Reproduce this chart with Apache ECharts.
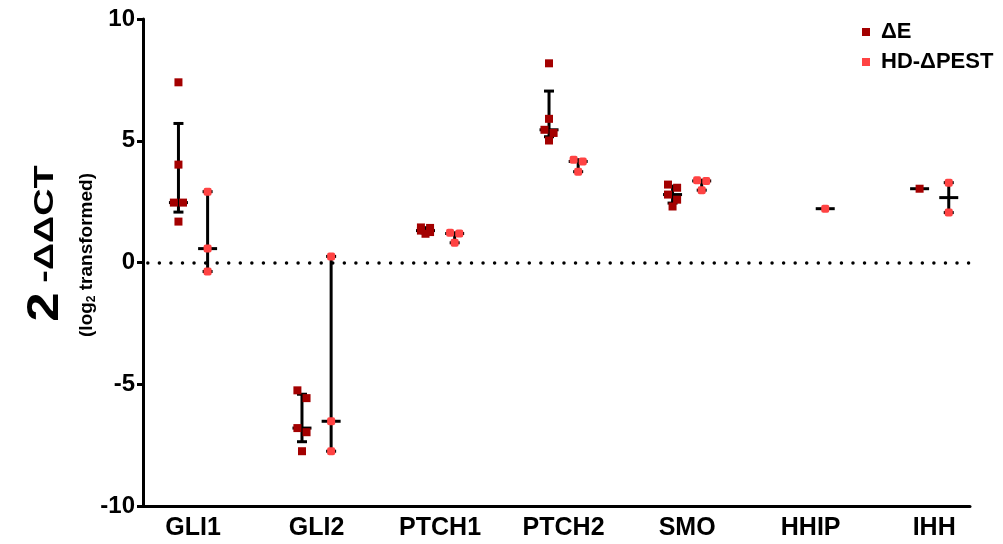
<!DOCTYPE html>
<html>
<head>
<meta charset="utf-8">
<title>Hedgehog pathway gene expression</title>
<script src="https://cdn.jsdelivr.net/npm/echarts@6/dist/echarts.min.js"></script>
<style>
  html, body { margin: 0; padding: 0; background: #fff; }
  #chart { width: 1003px; height: 544px; }
</style>
</head>
<body>
<div id="chart"></div>
<script>
// Genes on the x axis
const categories = ['GLI1', 'GLI2', 'PTCH1', 'PTCH2', 'SMO', 'HHIP', 'IHH'];

// Series names (legend)
const seriesNames = ['ΔE', 'HD-ΔPEST'];

// log2-transformed 2^-ΔΔCT values, one list per gene
const deltaE = [
  [7.40, 4.02, 2.46, 2.46, 1.68],
  [-5.25, -5.57, -6.80, -6.97, -7.75],
  [1.44, 1.42, 1.31, 1.25, 1.18],
  [8.18, 5.90, 5.45, 5.32, 5.01],
  [3.20, 3.07, 2.79, 2.58, 2.30],
  [],
  [3.03]
];
const hdDeltaPest = [
  [2.91, 0.57, -0.37],
  [0.25, -6.52, -7.75],
  [1.22, 1.19, 0.81],
  [4.22, 4.15, 3.73],
  [3.38, 3.35, 2.97],
  [2.21],
  [3.28, 2.05]
];

// y axis ticks
const yMin = -10, yMax = 10, yStep = 5;

const colors = ['#A30000', '#FF4343'];
const groupOffset = 0.118;   // horizontal shift of each series within a gene
const jitterStep = 0.037;    // sideways nudge for overlapping points
const clusterGap = 0.35;     // values closer than this overlap visually
const fontFamily = '"Liberation Sans", Arial, sans-serif';

// quartile with (n+1)p positions, linear interpolation
function quantile(s, p) {
  const n = s.length;
  const pos = (n + 1) * p;
  if (pos <= 1) return s[0];
  if (pos >= n) return s[n - 1];
  const lo = Math.floor(pos);
  return s[lo - 1] + (pos - lo) * (s[lo] - s[lo - 1]);
}

// spread overlapping points sideways, alternating left/right
function jitter(values) {
  const idx = values.map((v, i) => i).sort((a, b) => values[b] - values[a]);
  const out = new Array(values.length).fill(0);
  let k = 0;
  while (k < idx.length) {
    let e = k;
    while (e + 1 < idx.length && values[idx[e]] - values[idx[e + 1]] < clusterGap) e++;
    const size = e - k + 1;
    if (size > 1) {
      for (let j = 0; j < size; j++) {
        const last = (j === size - 1) && (size % 2 === 1);
        out[idx[k + j]] = last ? 0 : (j % 2 === 0 ? -jitterStep : jitterStep);
      }
    }
    k = e + 1;
  }
  return out;
}

function buildPoints(groups, dir) {
  const pts = [];
  groups.forEach((vals, i) => {
    const off = jitter(vals);
    vals.forEach((v, j) => pts.push([i + dir * groupOffset + off[j], v]));
  });
  return pts;
}

function buildStats(groups, dir) {
  const rows = [];
  groups.forEach((vals, i) => {
    if (!vals.length) return;
    const s = vals.slice().sort((a, b) => a - b);
    rows.push([i + dir * groupOffset, quantile(s, 0.5), quantile(s, 0.25), quantile(s, 0.75)]);
  });
  return rows;
}

// median bar + interquartile whiskers
function renderStats(params, api) {
  const x = api.value(0);
  const m = api.coord([x, api.value(1)]);
  const q1 = api.coord([x, api.value(2)]);
  const q3 = api.coord([x, api.value(3)]);
  const style = { stroke: '#000', lineWidth: 3, fill: null };
  const children = [
    { type: 'line', shape: { x1: m[0] - 9.5, y1: m[1], x2: m[0] + 9.5, y2: m[1] }, style }
  ];
  if (Math.abs(q1[1] - q3[1]) > 0.5) {
    children.push(
      { type: 'line', shape: { x1: m[0], y1: q3[1], x2: m[0], y2: q1[1] }, style },
      { type: 'line', shape: { x1: m[0] - 5, y1: q3[1], x2: m[0] + 5, y2: q3[1] }, style },
      { type: 'line', shape: { x1: m[0] - 5, y1: q1[1], x2: m[0] + 5, y2: q1[1] }, style }
    );
  }
  return { type: 'group', children };
}

const chart = echarts.init(document.getElementById('chart'), null, { renderer: 'canvas' });

chart.setOption({
  animation: false,
  backgroundColor: '#fff',
  grid: { left: 143, right: 33, top: 19, bottom: 38 },
  legend: {
    data: seriesNames,
    orient: 'vertical',
    left: 862,
    top: 21,
    padding: 0,
    icon: 'rect',
    itemWidth: 8,
    itemHeight: 8,
    itemGap: 8,
    textStyle: {
      fontFamily, fontSize: 22, fontWeight: 'bold', color: '#000',
      lineHeight: 22, padding: [0, 0, 0, 6]
    }
  },
  xAxis: {
    type: 'value',
    min: -0.405,
    max: 6.29,
    splitLine: { show: false },
    axisTick: { show: false },
    axisLine: { show: true, onZero: false, lineStyle: { color: '#000', width: 3 } },
    axisLabel: {
      customValues: categories.map((c, i) => i),
      formatter: v => categories[Math.round(v)],
      fontFamily, fontSize: 25, fontWeight: 'bold', color: '#000', margin: 10
    }
  },
  yAxis: {
    type: 'value',
    min: yMin,
    max: yMax,
    interval: yStep,
    splitLine: { show: false },
    axisLine: { show: true, onZero: false, lineStyle: { color: '#000', width: 3 } },
    axisTick: { show: true, length: 6, lineStyle: { color: '#000', width: 3 } },
    axisLabel: { fontFamily, fontSize: 24, fontWeight: 'bold', color: '#000', margin: 8 }
  },
  graphic: [
    {
      type: 'text', x: 46, y: 307, rotation: Math.PI / 2, scaleX: 1.2,
      style: { text: '2', font: 'bold 44px ' + fontFamily, fill: '#000',
        align: 'center', verticalAlign: 'middle', textAlign: 'center', textVerticalAlign: 'middle' }
    },
    {
      type: 'text', x: 45.5, y: 224, rotation: Math.PI / 2, scaleX: 1.35,
      style: { text: '-ΔΔCT', font: 'bold 28px ' + fontFamily, fill: '#000',
        align: 'center', verticalAlign: 'middle', textAlign: 'center', textVerticalAlign: 'middle' }
    },
    {
      type: 'text', x: 87, y: 255, rotation: Math.PI / 2,
      style: {
        text: '{a|(log}{s|2}{a| transformed)}',
        align: 'center', verticalAlign: 'middle', textAlign: 'center', textVerticalAlign: 'middle',
        rich: {
          a: { fontFamily, fontSize: 19, fontWeight: 'bold', fill: '#000', color: '#000', lineHeight: 22, verticalAlign: 'middle' },
          s: { fontFamily, fontSize: 12, fontWeight: 'bold', fill: '#000', color: '#000', lineHeight: 22, verticalAlign: 'bottom', padding: [6, 0, 0, 0] }
        }
      }
    }
  ],
  series: [
    {
      name: 'stats-dE',
      type: 'custom',
      renderItem: renderStats,
      data: buildStats(deltaE, -1),
      z: 2,
      silent: true,
      markLine: {
        silent: true,
        symbol: 'none',
        label: { show: false },
        lineStyle: { color: '#000', width: 3.5, type: [0.01, 11.55], dashOffset: 6.75, cap: 'round' },
        data: [{ yAxis: 0 }]
      }
    },
    {
      name: 'stats-hd',
      type: 'custom',
      renderItem: renderStats,
      data: buildStats(hdDeltaPest, 1),
      z: 2,
      silent: true
    },
    {
      name: seriesNames[0],
      type: 'scatter',
      symbol: 'rect',
      symbolSize: 8,
      itemStyle: { color: colors[0], opacity: 1 },
      data: buildPoints(deltaE, -1),
      z: 5
    },
    {
      name: seriesNames[1],
      type: 'scatter',
      symbol: 'roundRect',
      symbolSize: 8,
      itemStyle: { color: colors[1], opacity: 1 },
      data: buildPoints(hdDeltaPest, 1),
      z: 5
    }
  ]
});
</script>
</body>
</html>
